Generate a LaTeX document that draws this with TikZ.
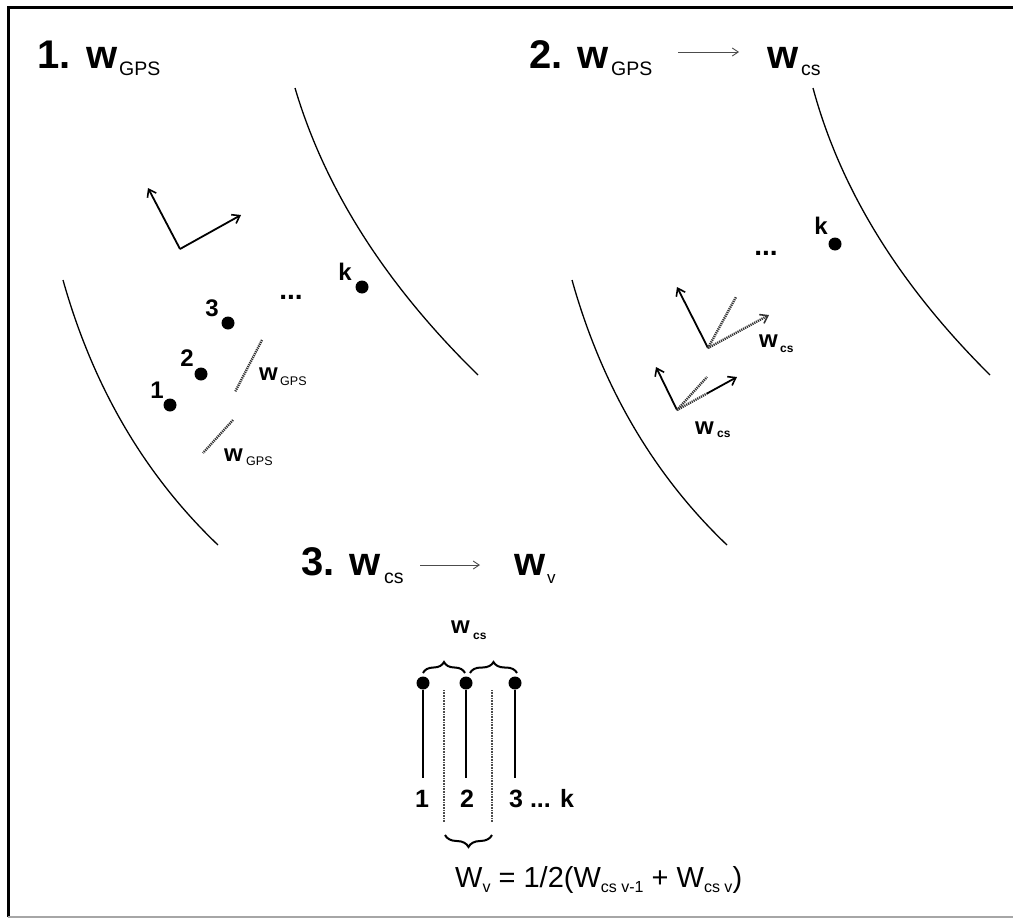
\documentclass[tikz,border=0pt]{standalone}
\usepackage{fontspec}
\setmainfont{Liberation Sans}
\usetikzlibrary{arrows.meta,decorations.pathreplacing}
\newcommand\lowsub[1]{\raisebox{-5pt}{\fontsize{16}{16}\selectfont #1}}
\tikzset{
 x=1pt,y=-1pt,
 curve/.style={line width=1.3pt},
 axis/.style={line width=1.8pt,-{Straight Barb[length=7pt,width=10pt,line width=1.6pt]}},
 dotline/.style={line width=2.4pt,dash pattern=on 1.2pt off 0.9pt,black!80},
 dotarrow/.style={dotline,-{Straight Barb[length=7pt,width=10pt,line width=1.6pt]}},
 pt/.style={circle,fill=black,inner sep=0,minimum size=13pt},
 hd/.style={font=\fontsize{40}{44}\selectfont\bfseries,inner sep=0,anchor=base west},
 hsub/.style={font=\fontsize{19.5}{20}\selectfont,inner sep=0,anchor=base west},
 num/.style={font=\fontsize{24}{26}\selectfont\bfseries,inner sep=0,anchor=base},
 numthree/.style={font=\fontsize{25}{27}\selectfont\bfseries,inner sep=0,anchor=base},
 ell/.style={font=\fontsize{28}{30}\selectfont\bfseries,inner sep=0,anchor=base},
 lw/.style={font=\fontsize{24}{26}\selectfont\bfseries,inner sep=0,anchor=base west},
 lsub/.style={font=\fontsize{12.5}{13}\selectfont,inner sep=0,anchor=base west},
 lsubb/.style={font=\fontsize{12}{13}\selectfont\bfseries,inner sep=0,anchor=base west},
 harrow/.style={line width=1pt,black!70,-{Straight Barb[length=6pt,width=8pt,line width=0.9pt]}},
 vline/.style={line width=1.4pt},
 vdots/.style={line width=1.6pt,dash pattern=on 0.8pt off 0.8pt,black!70},
 bracetop/.style={line width=2pt,decorate,decoration={brace,amplitude=11pt}},
}
\begin{document}
\begin{tikzpicture}
\useasboundingbox (0,0) rectangle (1013,918);
% frame
\draw[line width=3pt] (8,917) -- (8,7) -- (1013,7);
\draw[line width=2pt,black!35] (8,916.5) -- (1013,916.5);

% ---------- heading 1
\node[hd] (h1n) at (37,68) {1.};
\node[hd] (h1w) at (86,68) {w};
\node[hsub] (h1s) at (119,75) {GPS};

% ---------- heading 2
\node[hd] (h2n) at (529,68) {2.};
\node[hd] (h2w) at (577,68) {w};
\node[hsub] (h2s) at (611,75) {GPS};
\coordinate (h2a) at (678,52);
\coordinate (h2b) at (739,52);
\draw[harrow] (h2a) -- (h2b);
\node[hd] (h2w2) at (767,68) {w};
\node[hsub] (h2s2) at (801,75) {cs};

% ---------- heading 3
\node[hd] (h3n) at (301,575) {3.};
\node[hd] (h3w) at (349,575) {w};
\node[hsub] (h3s) at (384,583) {cs};
\coordinate (h3a) at (420,565);
\coordinate (h3b) at (480,565);
\draw[harrow] (h3a) -- (h3b);
\node[hd] (h3w2) at (514,575) {w};
\node[hsub,font=\fontsize{17}{18}\selectfont] (h3s2) at (547,583) {v};

% ---------- panel 1
\draw[curve] (63,280) .. controls (93,386.7) and (144.7,475) .. (218,545);
\draw[curve] (295,88) .. controls (325,189.3) and (386,285) .. (478,375);
\coordinate (o1) at (180,249);
\coordinate (o1u) at (148,188);
\coordinate (o1r) at (241,215);
\draw[axis] (o1) -- (o1u);
\draw[axis] (o1) -- (o1r);
\node[pt] (p1) at (170,405) {};
\node[pt] (p2) at (201,374) {};
\node[pt] (p3) at (228,323) {};
\node[pt] (pk) at (362,287) {};
\node[num] (l1) at (157,398) {1};
\node[num] (l2) at (187,366) {2};
\node[num] (l3) at (212,316) {3};
\node[num] (lk) at (345,280) {k};
\node[ell] (e1) at (291,299) {...};
\coordinate (d1a) at (262,340);
\coordinate (d1b) at (235,392);
\draw[dotline] (d1a) -- (d1b);
\coordinate (d2a) at (233,420);
\coordinate (d2b) at (203,453);
\draw[dotline] (d2a) -- (d2b);
\node[lw] (g1w) at (259,380) {w};
\node[lsub] (g1s) at (280,385) {GPS};
\node[lw] (g2w) at (224,461) {w};
\node[lsub] (g2s) at (246,465) {GPS};

% ---------- panel 2
\draw[curve] (572,280) .. controls (602,386.7) and (653.7,475) .. (727,545);
\draw[curve] (813,88) .. controls (840.3,189.3) and (899.3,285) .. (990,375);
\node[pt] (qk) at (835,244) {};
\node[num] (mk) at (821,234) {k};
\node[ell] (e2) at (766,255) {...};
\coordinate (oA) at (708,348);
\coordinate (oAu) at (677,287);
\coordinate (oAd) at (736,297);
\coordinate (oAr) at (769,315);
\draw[axis] (oA) -- (oAu);
\draw[dotline] (oA) -- (oAd);
\draw[dotarrow] (oA) -- (oAr);
\coordinate (oB) at (677,410);
\coordinate (oBu) at (656,367);
\coordinate (oBd) at (707,377);
\coordinate (oBm) at (707,393.5);
\coordinate (oBr) at (737,377);
\draw[axis] (oB) -- (oBu);
\draw[dotline] (oB) -- (oBd);
\draw[dotline] (oB) -- (oBm);
\draw[axis] (oBm) -- (oBr);
\node[lw] (cAw) at (759,347) {w};
\node[lsubb] (cAs) at (780,352) {cs};
\node[lw] (cBw) at (695,434) {w};
\node[lsubb] (cBs) at (717,437) {cs};

% ---------- panel 3
\node[lw] (c3w) at (451,633) {w};
\node[lsubb] (c3s) at (473,639) {cs};
\node[pt] (r1) at (423,683) {};
\node[pt] (r2) at (466,683) {};
\node[pt] (r3) at (515,683) {};
\coordinate (r1b) at (423,778);
\coordinate (r2b) at (466,778);
\coordinate (r3b) at (515,778);
\draw[vline] (r1) -- (r1b);
\draw[vline] (r2) -- (r2b);
\draw[vline] (r3) -- (r3b);
\coordinate (s1a) at (444,690);
\coordinate (s1b) at (444,822);
\coordinate (s2a) at (492,690);
\coordinate (s2b) at (492,822);
\draw[vdots] (s1a) -- (s1b);
\draw[vdots] (s2a) -- (s2b);
\coordinate (b1a) at (423,673);
\coordinate (b1b) at (465,673);
\coordinate (b2a) at (470,673);
\coordinate (b2b) at (517,673);
\draw[bracetop] (b1a) -- (b1b);
\draw[bracetop] (b2a) -- (b2b);
\coordinate (b3a) at (492,835);
\coordinate (b3b) at (445,835);
\draw[line width=2pt,decorate,decoration={brace,amplitude=12pt}] (b3a) -- (b3b);
\node[numthree] (n1) at (422,807) {1};
\node[numthree] (n2) at (467,807) {2};
\node[numthree,anchor=base west] (n3) at (509,807) {3 ... k};
\node[anchor=base west,inner sep=0,font=\fontsize{29}{32}\selectfont] (fm) at (455,887)
  {W\lowsub{v} = 1/2(W\lowsub{cs v-1} + W\lowsub{cs v})};
\end{tikzpicture}
\end{document}
